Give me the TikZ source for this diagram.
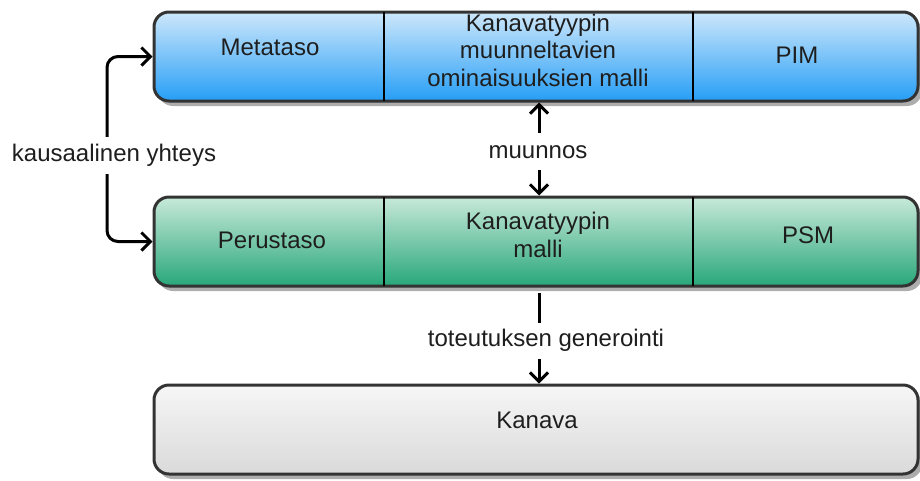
\documentclass[tikz,border=0pt]{standalone}
\usepackage{fontspec}
\setmainfont{Liberation Sans}
\usetikzlibrary{arrows.meta,shadows}

\definecolor{blueTop}{RGB}{205,231,251}
\definecolor{blueBot}{RGB}{38,158,246}
\definecolor{greenTop}{RGB}{200,233,218}
\definecolor{greenBot}{RGB}{40,167,122}
\definecolor{greyTop}{RGB}{246,246,246}
\definecolor{greyBot}{RGB}{218,218,218}
\definecolor{inkText}{RGB}{30,30,30}

\begin{document}
\begin{tikzpicture}[x=1pt,y=-1pt,
  font=\fontsize{24}{27.5}\selectfont,
  text=inkText,
  >={Straight Barb[length=9pt,width=18pt]},
  layerbox/.style={draw=black!80, line width=3pt, rounded corners=15pt,
    minimum width=764pt, minimum height=89pt, inner sep=0pt,
    drop shadow={shadow xshift=4pt, shadow yshift=-5pt, fill=black!32, opacity=1}},
  divider/.style={line width=2.6pt, black},
  conn/.style={line width=3pt, black},
  celltext/.style={align=center, inner sep=0pt},
  conlabel/.style={fill=white, inner xsep=4pt, inner ysep=9pt,
    text height=16pt, text depth=3pt, anchor=base},
]
\useasboundingbox (0,0) rectangle (920,480);

% the three layers
\node[layerbox, top color=blueTop, bottom color=blueBot] (meta) at (536,56.5) {};
\node[layerbox, top color=greenTop, bottom color=greenBot] (perus) at (536,241.5) {};
\node[layerbox, top color=greyTop, bottom color=greyBot] (kanava) at (536,429.5) {};

% cell dividers
\draw[divider] (384,12) -- (384,101);
\draw[divider] (693,12) -- (693,101);
\draw[divider] (384,197) -- (384,286);
\draw[divider] (693,197) -- (693,286);

% cell texts
\node[celltext, anchor=base] (metataso) at (270,55) {Metataso};
\node[celltext] (pimmalli) at (538,50) {Kanavatyypin\\muunneltavien\\ominaisuuksien malli};
\node[celltext, anchor=base] (pim) at (797,63) {PIM};
\node[celltext, anchor=base] (perustaso) at (272,248) {Perustaso};
\node[celltext] (psmmalli) at (538,235) {Kanavatyypin\\malli};
\node[celltext, anchor=base] (psm) at (808,243) {PSM};
\node[celltext, anchor=base] (kanavatext) at (537,428) {Kanava};

% connectors
\coordinate (lx) at (107,150);
\coordinate (mx) at (539,150);
\draw[conn, <->, rounded corners=11pt] (meta.west) -| (lx) |- (perus.west);
\draw[conn, <->] (mx |- meta.south) -- (mx |- perus.north);
\draw[conn, ->, shorten <=5pt] (mx |- perus.south) -- (mx |- kanava.north);

% connector labels
\node[conlabel] (causal) at (114,161.5) {kausaalinen yhteys};
\node[conlabel] (transform) at (538,158) {muunnos};
\node[conlabel, text height=14pt, text depth=4pt] (generate) at (546,346) {toteutuksen generointi};
\end{tikzpicture}
\end{document}
